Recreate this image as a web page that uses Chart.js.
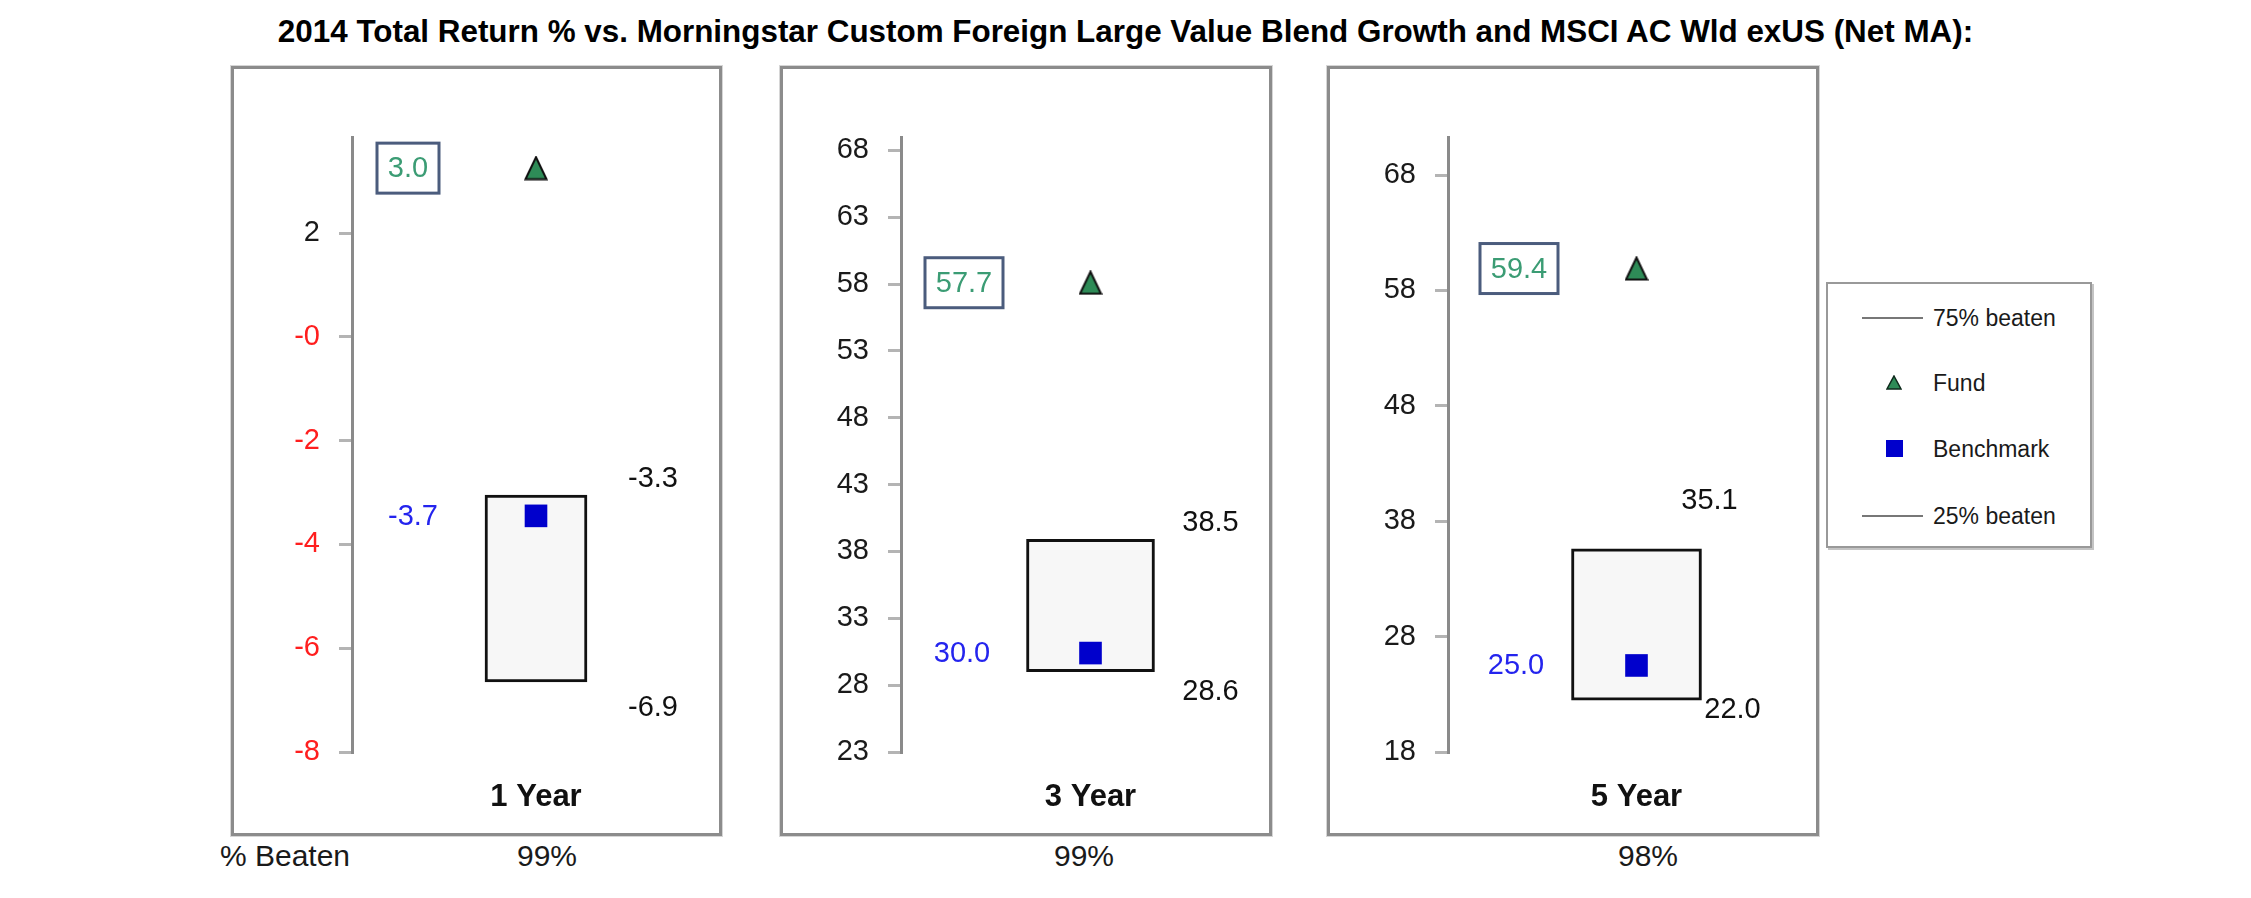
<!DOCTYPE html>
<html>
<head>
<meta charset="utf-8">
<script src="https://cdn.jsdelivr.net/npm/chart.js@4.4.1/dist/chart.umd.min.js"></script>
<style>
html,body{margin:0;padding:0;background:#fff;}
body{width:2251px;height:898px;position:relative;overflow:hidden;font-family:"Liberation Sans",Arial,sans-serif;color:#111;}
#title{position:absolute;left:0;top:13px;width:2251px;text-align:center;font-weight:bold;font-size:31.4px;line-height:38px;color:#000;}
.panel{position:absolute;top:66px;height:764px;border:3px solid #8c8c8c;box-shadow:0 0 0 1px #d6d6d6;background:#fff;}
.cv{position:absolute;top:69px;}
.beat{position:absolute;top:839px;font-size:30px;line-height:34px;transform:translateX(-50%);white-space:nowrap;color:#1a1a1a;}
#legend{position:absolute;left:1826px;top:282px;width:262px;height:262px;border:2px solid #999;box-shadow:2px 2px 0 #c4c4c4;background:#fff;}
.li{position:absolute;left:105px;font-size:23px;line-height:28px;transform:translateY(-50%);white-space:nowrap;color:#1a1a1a;}
.ls{position:absolute;}
</style>
</head>
<body>
<div id="title">2014 Total Return % vs. Morningstar Custom Foreign Large Value Blend Growth and MSCI AC Wld exUS (Net MA):</div>
<div id="legend">
  <div class="ls" style="left:34px;top:33px;width:61px;height:2px;background:#777;"></div>
  <div class="li" style="top:34px;">75% beaten</div>
  <svg class="ls" style="left:58px;top:91px;" width="16" height="15"><polygon points="8,1 15,14 1,14" fill="#2e8b57" stroke="#0e2a1c" stroke-width="1.5"/></svg>
  <div class="li" style="top:99px;">Fund</div>
  <div class="ls" style="left:58px;top:156px;width:17px;height:17px;background:#0000cc;"></div>
  <div class="li" style="top:165px;">Benchmark</div>
  <div class="ls" style="left:34px;top:231px;width:61px;height:2px;background:#777;"></div>
  <div class="li" style="top:232px;">25% beaten</div>
</div>
<div class="beat" style="left:285px;">% Beaten</div>
<script>
// ---- data ----
const periods = ['1 Year', '3 Year', '5 Year'];
const fundReturn = [3.0, 57.7, 59.4];
const benchmarkReturn = [-3.7, 30.0, 25.0];
const beaten75 = [-3.3, 38.5, 35.1];
const beaten25 = [-6.9, 28.6, 22.0];
const pctBeaten = ['99%', '99%', '98%'];
const axisMin = [-8.25, 22.6, 17.5];
const axisMax = [3.6, 68.6, 70.8];
const tickValues1Y = [-8.25, -6.25, -4.25, -2.25, -0.25, 1.75];
const tickLabels1Y = ['-8', '-6', '-4', '-2', '-0', '2'];
const tickValues3Y = [22.6, 27.6, 32.6, 37.6, 42.6, 47.6, 52.6, 57.6, 62.6, 67.6];
const tickLabels3Y = ['23', '28', '33', '38', '43', '48', '53', '58', '63', '68'];
const tickValues5Y = [17.5, 27.5, 37.5, 47.5, 57.5, 67.5];
const tickLabels5Y = ['18', '28', '38', '48', '58', '68'];

// ---- layout (positions / sizes only) ----
const FONT = '"Liberation Sans", Arial, sans-serif';
const layout = [
  {left: 231, outerW: 491, canvasW: 502, barW: 102, fundDx: 56, benchDx: 61, hiDx: 117, loDx: 117, hiDy: -16, loDy: 26, beatX: 547},
  {left: 780, outerW: 492, canvasW: 513, barW: 128, fundDx: 63, benchDx: 61, hiDx: 120, loDx: 120, hiDy: -16, loDy: 20, beatX: 1084},
  {left: 1327, outerW: 492, canvasW: 511, barW: 130, fundDx: 71, benchDx: 68, hiDx: 73, loDx: 96, hiDy: -48, loDy: 10, beatX: 1648}
];
const CANVAS_H = 763;

// triangle marker
const tri = document.createElement('canvas');
tri.width = 24; tri.height = 25;
(function () {
  const t = tri.getContext('2d');
  t.beginPath(); t.moveTo(12, 1.5); t.lineTo(22.5, 23.5); t.lineTo(1.5, 23.5); t.closePath();
  t.fillStyle = '#2e8b57'; t.fill();
  t.lineWidth = 2; t.strokeStyle = '#101010'; t.stroke();
})();

const labelPlugin = {
  id: 'valueLabels',
  afterDatasetsDraw(chart, args, opts) {
    const i = opts.idx, L = layout[i];
    const {ctx, chartArea} = chart;
    const x = chart.scales.x, y = chart.scales.y;
    const cx = x.getPixelForValue(0);
    ctx.save();
    ctx.font = '29px ' + FONT;
    ctx.textBaseline = 'middle';
    ctx.textAlign = 'center';
    // fund label (boxed)
    const ft = fundReturn[i].toFixed(1);
    const tw = ctx.measureText(ft).width;
    const bw = Math.round(tw + 22), bh = 50;
    const bx = chartArea.left + L.fundDx;
    const by = Math.max(y.getPixelForValue(fundReturn[i]), chartArea.top + bh / 2 + 1);
    ctx.fillStyle = '#fff';
    ctx.fillRect(bx - bw / 2, by - bh / 2, bw, bh);
    ctx.lineWidth = 3; ctx.strokeStyle = '#4b5c7d';
    ctx.strokeRect(bx - bw / 2, by - bh / 2, bw, bh);
    ctx.fillStyle = '#3b9c74';
    ctx.fillText(ft, bx, by + 1);
    // benchmark label
    ctx.fillStyle = '#2424ee';
    ctx.fillText(benchmarkReturn[i].toFixed(1), chartArea.left + L.benchDx, y.getPixelForValue(benchmarkReturn[i]) + 1);
    // range labels
    ctx.fillStyle = '#111';
    ctx.fillText(beaten75[i].toFixed(1), cx + L.hiDx, y.getPixelForValue(beaten75[i]) + L.hiDy);
    ctx.fillText(beaten25[i].toFixed(1), cx + L.loDx, y.getPixelForValue(beaten25[i]) + L.loDy);
    ctx.restore();
  }
};

function makePanel(i, tickValues, tickLabels) {
  const L = layout[i];
  const panel = document.createElement('div');
  panel.className = 'panel';
  panel.style.left = L.left + 'px';
  panel.style.width = (L.outerW - 6) + 'px';
  document.body.appendChild(panel);
  const cv = document.createElement('canvas');
  cv.className = 'cv';
  cv.width = L.canvasW; cv.height = CANVAS_H;
  cv.style.left = (L.left + 3) + 'px';
  cv.style.width = L.canvasW + 'px'; cv.style.height = CANVAS_H + 'px';
  document.body.appendChild(cv);
  const b = document.createElement('div');
  b.className = 'beat';
  b.style.left = L.beatX + 'px';
  b.textContent = pctBeaten[i];
  document.body.appendChild(b);

  new Chart(cv, {
    type: 'bar',
    data: {
      labels: [periods[i]],
      datasets: [
        {type: 'line', label: 'Fund', data: [fundReturn[i]], showLine: false,
         pointStyle: tri, pointRadius: 12, order: 1},
        {type: 'line', label: 'Benchmark', data: [benchmarkReturn[i]], showLine: false,
         pointStyle: 'rect', pointRadius: 16, pointBackgroundColor: '#0000cc',
         pointBorderColor: '#0000cc', pointBorderWidth: 0, order: 2},
        {type: 'bar', label: '25%-75% beaten', data: [[beaten25[i], beaten75[i]]],
         backgroundColor: '#f7f7f7', borderColor: '#111', borderWidth: 3,
         borderSkipped: false, barThickness: L.barW, order: 3}
      ]
    },
    options: {
      responsive: false, animation: false, events: [],
      layout: {padding: {top: 68, left: 0, right: 0, bottom: 0}},
      plugins: {legend: {display: false}, tooltip: {enabled: false}, valueLabels: {idx: i}},
      scales: {
        x: {
          type: 'category', offset: true,
          grid: {display: false, drawTicks: false}, border: {display: false},
          ticks: {color: '#111', font: {family: FONT, size: 31, weight: 'bold'}, padding: 27, maxRotation: 0},
          afterFit(s) { s.height = 80; }
        },
        y: {
          type: 'linear', min: axisMin[i], max: axisMax[i],
          afterBuildTicks(s) { s.ticks = tickValues.map(v => ({value: v})); },
          ticks: {
            callback: (v, k) => tickLabels[k],
            color: (c) => (c.tick && c.tick.value < 0) ? '#ff1e1e' : '#1a1a1a',
            font: {family: FONT, size: 29}, padding: 19
          },
          grid: {drawOnChartArea: false, drawTicks: true, tickLength: 13, color: '#b4b4b4', lineWidth: 3},
          border: {display: true, color: '#8a8a8a', width: 3},
          afterFit(s) { s.width = 118; }
        }
      }
    },
    plugins: [labelPlugin]
  });
}

makePanel(0, tickValues1Y, tickLabels1Y);
makePanel(1, tickValues3Y, tickLabels3Y);
makePanel(2, tickValues5Y, tickLabels5Y);
</script>
</body>
</html>
